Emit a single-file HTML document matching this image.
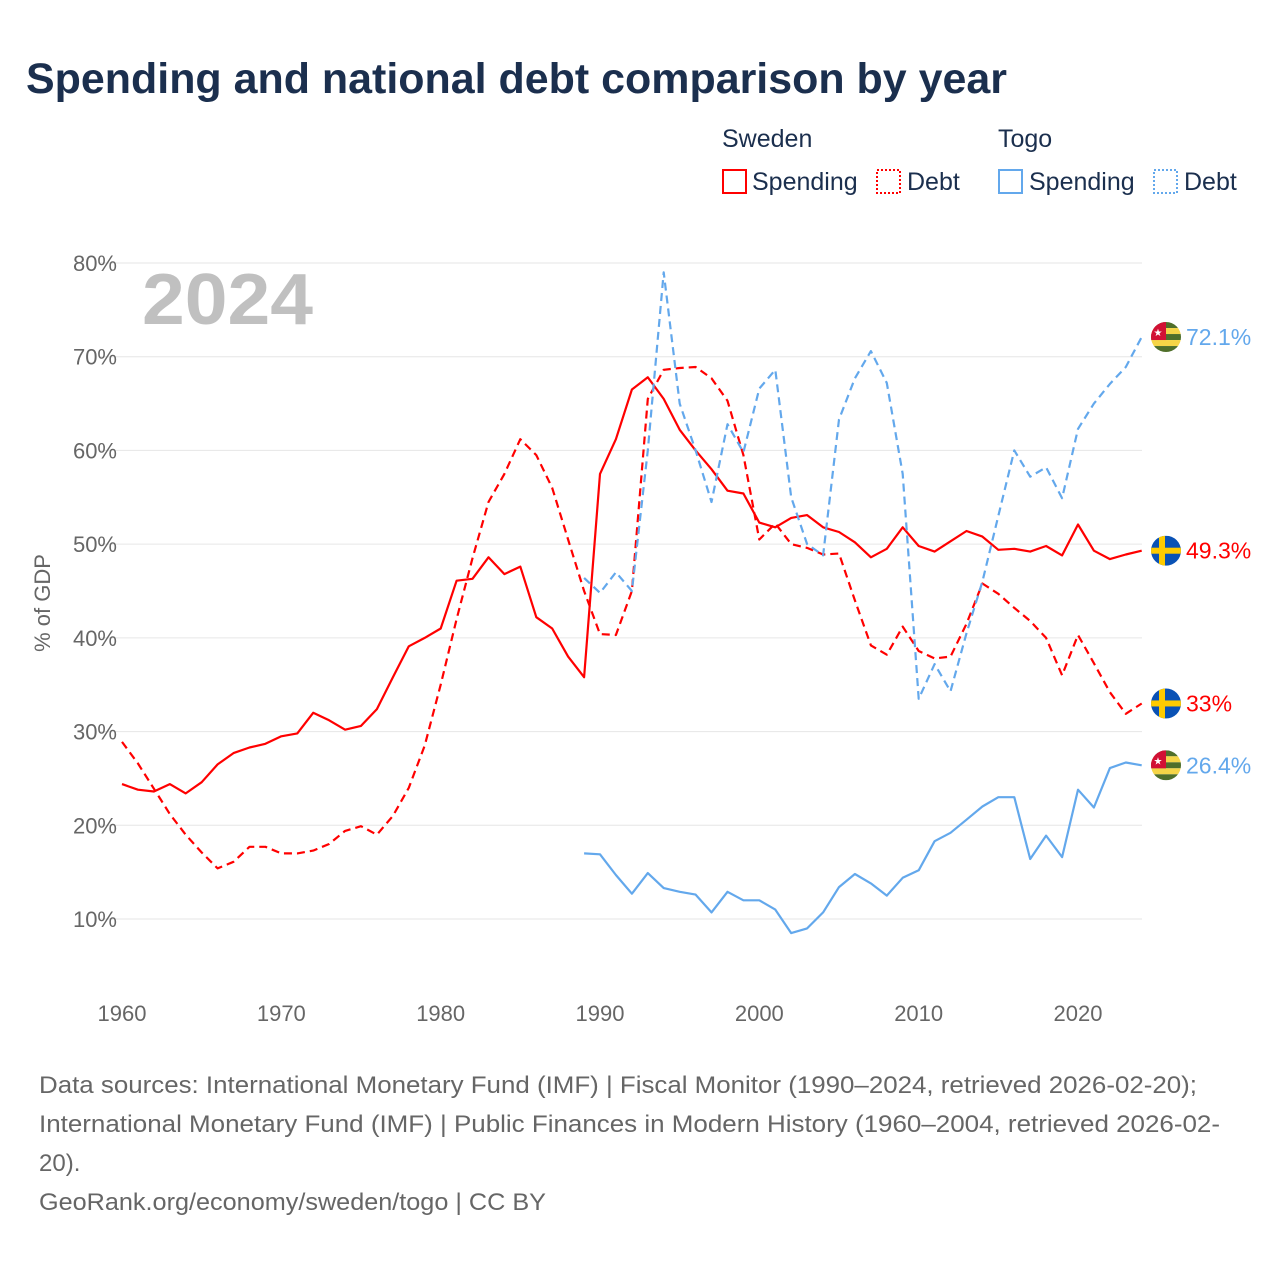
<!DOCTYPE html>
<html><head><meta charset="utf-8"><style>
body{margin:0;background:#fff;width:1280px;height:1280px;overflow:hidden;font-family:"Liberation Sans",sans-serif}
</style></head><body>
<svg id="chart" width="1280" height="1280" xmlns="http://www.w3.org/2000/svg" font-family="Liberation Sans, sans-serif">
<text x="26" y="93" font-size="43" font-weight="bold" fill="#1b2f4e" textLength="981" lengthAdjust="spacingAndGlyphs">Spending and national debt comparison by year</text>
<g font-size="25" fill="#1b2f4e">
<text x="722" y="147">Sweden</text><text x="998" y="147">Togo</text>
<g><rect x="723" y="170" width="23" height="23" fill="none" stroke="#f00" stroke-width="2"/><text x="752" y="190">Spending</text></g>
<g><rect x="877" y="170" width="23" height="23" fill="none" stroke="#f00" stroke-width="2" stroke-dasharray="2,2"/><text x="907" y="190">Debt</text></g>
<g><rect x="999" y="170" width="23" height="23" fill="none" stroke="#63a8ec" stroke-width="2"/><text x="1029" y="190">Spending</text></g>
<g><rect x="1154" y="170" width="23" height="23" fill="none" stroke="#63a8ec" stroke-width="2" stroke-dasharray="2,2"/><text x="1184" y="190">Debt</text></g>
</g>
<g id="grid"></g>
<text x="142" y="324" font-size="72" font-weight="bold" fill="#c0c0c0" textLength="171" lengthAdjust="spacingAndGlyphs">2024</text>
<text transform="translate(50,603) rotate(-90)" text-anchor="middle" font-size="22" fill="#666">% of GDP</text>
<g id="series"></g>
<g font-size="24" fill="#666" lengthAdjust="spacingAndGlyphs">
<text x="39" y="1093" textLength="1158" lengthAdjust="spacingAndGlyphs">Data sources: International Monetary Fund (IMF) | Fiscal Monitor (1990–2024, retrieved 2026-02-20);</text>
<text x="39" y="1132" textLength="1181" lengthAdjust="spacingAndGlyphs">International Monetary Fund (IMF) | Public Finances in Modern History (1960–2004, retrieved 2026-02-</text>
<text x="39" y="1171">20).</text>
<text x="39" y="1210" textLength="507" lengthAdjust="spacingAndGlyphs">GeoRank.org/economy/sweden/togo | CC BY</text>
</g>
</svg>
<script>
const yTicks=[10,20,30,40,50,60,70,80];
const xTicks=[1960,1970,1980,1990,2000,2010,2020];
const sweYears0=1960;
const togoYears0=1989;
const sweSpending=[24.4,23.8,23.6,24.4,23.4,24.6,26.5,27.7,28.3,28.7,29.5,29.8,32.0,31.2,30.2,30.6,32.4,35.8,39.1,40.0,41.0,46.1,46.3,48.6,46.8,47.6,42.2,41.0,38.0,35.8,57.5,61.2,66.5,67.8,65.5,62.2,60.0,58.0,55.7,55.4,52.3,51.8,52.8,53.1,51.8,51.3,50.2,48.6,49.5,51.8,49.8,49.2,50.3,51.4,50.8,49.4,49.5,49.2,49.8,48.8,52.1,49.3,48.4,48.9,49.3];
const sweDebt=[28.9,26.6,23.9,21.2,19.0,17.1,15.4,16.1,17.7,17.7,17.0,17.0,17.3,18.0,19.4,19.9,19.0,21.0,24.0,28.5,35.0,42.0,48.5,54.5,57.5,61.2,59.5,56.0,50.5,45.0,40.4,40.3,45.0,65.5,68.6,68.8,68.9,67.7,65.3,59.5,50.5,52.2,50.0,49.6,48.9,49.0,44.0,39.2,38.2,41.2,38.6,37.8,38.0,41.5,45.8,44.7,43.2,41.8,40.0,36.0,40.3,37.3,34.2,31.9,33.0];
const togoDebt=[46.4,44.8,47.0,45.0,60.0,79.0,65.0,60.0,54.5,62.8,59.8,66.6,68.6,55.0,50.0,48.8,63.3,67.7,70.6,67.2,57.5,33.5,37.2,34.3,40.5,46.0,53.0,60.0,57.2,58.2,54.9,62.3,65.0,67.1,68.9,72.1];
const togoSpending=[17.0,16.9,14.7,12.7,14.9,13.3,12.9,12.6,10.7,12.9,12.0,12.0,11.0,8.5,9.0,10.7,13.4,14.8,13.8,12.5,14.4,15.2,18.3,19.2,20.6,22.0,23.0,23.0,16.4,18.9,16.6,23.8,21.9,26.1,26.7,26.4];
const endLabels=["72.1%","49.3%","33%","26.4%"];
const NS="http://www.w3.org/2000/svg";
const X=yr=>122+(yr-1960)*(1078-122)/60;
const Y=v=>919-(v-10)*(919-263)/70;
const grid=document.getElementById('grid'),ser=document.getElementById('series');
function mk(tag,attrs,parent){const e=document.createElementNS(NS,tag);for(const k in attrs)e.setAttribute(k,attrs[k]);parent.appendChild(e);return e;}
yTicks.forEach(t=>{
 const l=mk('line',{x1:100,x2:1142,y1:Y(t),y2:Y(t),stroke:'#e6e6e6','stroke-width':1},grid);
 
 
 const tx=mk('text',{x:117,y:Y(t)+8,'text-anchor':'end','font-size':22,fill:'#666'},grid);
 tx.textContent=t+'%';
 
 
});
xTicks.forEach(t=>{
 const tx=mk('text',{x:X(t),y:1021,'text-anchor':'middle','font-size':22,fill:'#666'},grid);
 tx.textContent=t;
 
 
});
function line(vals,y0,color,dash,name){
 const pts=vals.map((v,i)=>X(y0+i).toFixed(1)+','+Y(v).toFixed(1)).join(' ');
 const p=mk('polyline',{points:pts,fill:'none',stroke:color,'stroke-width':2.2,'stroke-linejoin':'round'},ser);
 if(dash)p.setAttribute('stroke-dasharray','8,5');
 
 
}
line(sweSpending,sweYears0,'#ff0000',false,'sweden-spending-line');
line(sweDebt,sweYears0,'#ff0000',true,'sweden-debt-line');
line(togoDebt,togoYears0,'#63a8ec',true,'togo-debt-line');
line(togoSpending,togoYears0,'#63a8ec',false,'togo-spending-line');
function flag(cx,cy,country){
 const g=mk('g',{},ser);
 
 
 const id='c'+Math.round(cy);
 const cp=mk('clipPath',{id:id},g);mk('circle',{cx:cx,cy:cy,r:15},cp);
 const gg=mk('g',{'clip-path':'url(#'+id+')'},g);
 if(country==='sweden'){
  mk('rect',{x:cx-15,y:cy-15,width:30,height:30,fill:'#0a52b5'},gg);
  mk('rect',{x:cx-15,y:cy-3,width:30,height:6,fill:'#fecb00'},gg);
  mk('rect',{x:cx-7,y:cy-15,width:6,height:30,fill:'#fecb00'},gg);
 } else {
  for(let i=0;i<5;i++)mk('rect',{x:cx-15,y:cy-15+i*6,width:30,height:6,fill:i%2?'#f5d547':'#4f6f2a'},gg);
  mk('rect',{x:cx-15,y:cy-15,width:15,height:18,fill:'#d21034'},gg);
  const s=mk('text',{x:cx-8,y:cy-1,'font-size':10,fill:'#fff','text-anchor':'middle'},gg);s.textContent='★';
 }
}
const ends=[[togoDebt,'togo','#63a8ec'],[sweSpending,'sweden','#ff0000'],[sweDebt,'sweden','#ff0000'],[togoSpending,'togo','#63a8ec']];
ends.forEach((e,i)=>{
 const v=e[0][e[0].length-1],cy=Y(v);
 flag(1166,cy,e[1]);
 const t=mk('text',{x:1186,y:cy+8,'font-size':23,fill:e[2]},ser);
 t.textContent=endLabels[i];
 
 
});
</script>
</body></html>
